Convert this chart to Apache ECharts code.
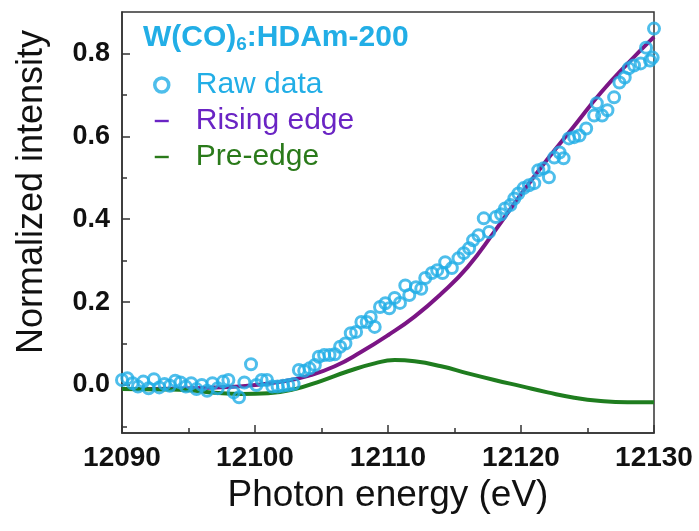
<!DOCTYPE html>
<html>
<head>
<meta charset="utf-8">
<script src="https://cdn.jsdelivr.net/npm/echarts@6/dist/echarts.min.js"></script>
<style>
  html, body { margin: 0; padding: 0; background: #fff; }
  #chart { width: 699px; height: 531px; }
</style>
</head>
<body>
<div id="chart"></div>
<script>
// raw data (photon energy / normalized intensity)
var rawX = [12090.0, 12090.4, 12090.8, 12091.2, 12091.6, 12092.0, 12092.4, 12092.8, 12093.2, 12093.6,
    12094.0, 12094.4, 12094.8, 12095.2, 12095.6, 12096.0, 12096.4, 12096.8, 12097.2, 12097.6,
    12098.0, 12098.4, 12098.8, 12099.2, 12099.7, 12100.1, 12100.5, 12100.9, 12101.3, 12101.7,
    12102.1, 12102.5, 12102.9, 12103.3, 12103.7, 12104.1, 12104.5, 12104.8, 12105.2, 12105.6,
    12106.0, 12106.4, 12106.8, 12107.2, 12107.6, 12108.0, 12108.4, 12108.7, 12109.0, 12109.4,
    12109.8, 12110.1, 12110.5, 12110.9, 12111.3, 12111.6, 12112.1, 12112.5, 12112.8, 12113.3,
    12113.7, 12114.1, 12114.3, 12114.8, 12115.3, 12115.7, 12116.1, 12116.4, 12116.8, 12117.2,
    12117.6, 12118.1, 12118.5, 12118.8, 12119.2, 12119.5, 12119.8, 12120.2, 12120.6, 12121.0,
    12121.3, 12121.7, 12122.1, 12122.5, 12122.9, 12123.2, 12123.6, 12124.0, 12124.4, 12124.9,
    12125.5, 12125.7, 12126.1, 12126.5, 12127.0, 12127.4, 12127.8, 12128.1, 12128.5, 12129.0,
    12129.4, 12129.7, 12129.9, 12130.0];
var rawY = [0.012, 0.016, 0.004, -0.004, 0.008, -0.008, 0.014, -0.006, 0.002, -0.002,
    0.010, 0.006, -0.004, 0.004, -0.010, 0.000, -0.014, 0.004, -0.008, 0.008,
    0.012, -0.018, -0.030, 0.006, 0.050, 0.000, 0.012, 0.012, -0.004, -0.004,
    -0.002, 0.000, 0.002, 0.036, 0.034, 0.040, 0.048, 0.068, 0.072, 0.072,
    0.074, 0.092, 0.100, 0.125, 0.128, 0.152, 0.152, 0.164, 0.140, 0.188,
    0.197, 0.185, 0.210, 0.198, 0.240, 0.217, 0.236, 0.232, 0.258, 0.270,
    0.277, 0.270, 0.296, 0.282, 0.306, 0.318, 0.330, 0.349, 0.361, 0.402,
    0.369, 0.405, 0.412, 0.426, 0.434, 0.450, 0.462, 0.475, 0.482, 0.487,
    0.518, 0.523, 0.501, 0.549, 0.561, 0.547, 0.595, 0.598, 0.602, 0.619,
    0.650, 0.680, 0.650, 0.663, 0.694, 0.730, 0.742, 0.764, 0.771, 0.776,
    0.814, 0.783, 0.790, 0.860];

// rising edge fit
var riseX = [12090, 12094, 12098, 12100, 12102, 12104, 12106, 12108, 12110, 12112,
    12114, 12116, 12118, 12120, 12122, 12124, 12126, 12128, 12130];
var riseY = [-0.010, -0.009, -0.005, 0.000, 0.008, 0.022, 0.045, 0.080, 0.120, 0.165,
    0.220, 0.285, 0.370, 0.460, 0.545, 0.625, 0.705, 0.775, 0.840];

// pre-edge fit
var preX = [12090, 12093, 12095, 12097, 12099, 12101, 12103, 12105, 12107, 12109,
    12110.5, 12112, 12114, 12116, 12118, 12120, 12122, 12124, 12126, 12128, 12130];
var preY = [-0.010, -0.011, -0.013, -0.019, -0.022, -0.020, -0.010, 0.010, 0.033, 0.052,
    0.060, 0.057, 0.045, 0.028, 0.012, -0.003, -0.018, -0.031, -0.039, -0.042, -0.042];

var yMajor = [0, 0.2, 0.4, 0.6, 0.8];
var yMinor = [-0.1, 0.1, 0.3, 0.5, 0.7];
var xMinor = [12095, 12105, 12115, 12125];

function pairs(xs, ys) {
    var out = [];
    for (var i = 0; i < xs.length; i++) out.push([xs[i], ys[i]]);
    return out;
}

var cyan = '#22aee6';
var purple = '#7b1585';
var green = '#1f7d1f';
var font = 'Liberation Sans, Arial, sans-serif';
var dash = 'path://M0,0 M0,14 M0,5.8 L14,5.8 L14,8.2 L0,8.2 Z';

var chart = echarts.init(document.getElementById('chart'));
var option = {
    animation: false,
    backgroundColor: '#fff',
    textStyle: {fontFamily: font},
    title: {
        left: 143,
        top: 22,
        padding: 0,
        text: '{a|W(CO)}{s|6}{a|:HDAm-200}',
        textStyle: {
            rich: {
                a: {fontSize: 30, fontWeight: 'bold', color: cyan, fontFamily: font, lineHeight: 32},
                s: {fontSize: 19, fontWeight: 'bold', color: cyan, fontFamily: font, verticalAlign: 'bottom', lineHeight: 19}
            }
        }
    },
    legend: {
        orient: 'vertical',
        left: 153,
        top: 70,
        padding: 0,
        itemGap: 6,
        itemWidth: 14,
        itemHeight: 14,
        textStyle: {fontSize: 30, fontFamily: font, lineHeight: 30, padding: [0, 0, 0, 22]},
        data: [
            {name: 'Raw data', textStyle: {color: cyan}, itemStyle: {borderWidth: 3.5}},
            {name: 'Rising edge', icon: dash, textStyle: {color: '#6a24c4'}, itemStyle: {color: '#6a24c4'}},
            {name: 'Pre-edge', icon: dash, textStyle: {color: '#2a7a1a'}, itemStyle: {color: '#2a7a1a'}}
        ]
    },
    grid: {
        left: 122, right: 45, top: 12, bottom: 98,
        show: true, borderColor: '#333', borderWidth: 1.5
    },
    graphic: [{
        type: 'text',
        x: 32, y: 192,
        rotation: Math.PI / 2,
        style: {
            text: 'Normalized intensity',
            font: '36px ' + font,
            fill: '#111',
            textAlign: 'center',
            textVerticalAlign: 'middle'
        }
    }],
    xAxis: [{
        type: 'value',
        min: 12090, max: 12130, interval: 10,
        name: 'Photon energy (eV)',
        nameLocation: 'middle',
        nameGap: 42,
        nameTextStyle: {fontSize: 37, color: '#111', fontFamily: font},
        axisLine: {onZero: false, lineStyle: {color: '#333', width: 1.5}},
        axisTick: {inside: true, length: 8, lineStyle: {color: '#333', width: 1.5}},
        axisLabel: {
            fontSize: 28, fontWeight: 'bold', color: '#111', margin: 11, fontFamily: font,
            formatter: function (v) { return String(v); }
        },
        splitLine: {show: false}
    }, {
        type: 'value',
        min: 12090, max: 12130,
        position: 'bottom',
        axisLine: {show: false, onZero: false},
        axisTick: {show: true, inside: true, length: 5, customValues: xMinor, lineStyle: {color: '#333', width: 1.5}},
        axisLabel: {show: false},
        splitLine: {show: false}
    }],
    yAxis: [{
        type: 'value',
        min: -0.116, max: 0.9,
        axisLine: {show: true, onZero: false, lineStyle: {color: '#333', width: 1.5}},
        axisTick: {inside: true, length: 8, customValues: yMajor, lineStyle: {color: '#333', width: 1.5}},
        axisLabel: {
            fontSize: 27, fontWeight: 'bold', color: '#111', margin: 12, fontFamily: font,
            customValues: yMajor,
            formatter: function (v) { return v.toFixed(1); }
        },
        splitLine: {show: false}
    }, {
        type: 'value',
        min: -0.116, max: 0.9,
        position: 'left',
        axisLine: {show: false, onZero: false},
        axisTick: {show: true, inside: true, length: 5, customValues: yMinor, lineStyle: {color: '#333', width: 1.5}},
        axisLabel: {show: false},
        splitLine: {show: false}
    }],
    series: [{
        name: 'Rising edge',
        type: 'line',
        data: pairs(riseX, riseY),
        smooth: 0.5,
        showSymbol: false,
        symbol: 'none',
        lineStyle: {color: purple, width: 4},
        itemStyle: {color: purple},
        z: 2
    }, {
        name: 'Pre-edge',
        type: 'line',
        data: pairs(preX, preY),
        smooth: 0.5,
        showSymbol: false,
        symbol: 'none',
        lineStyle: {color: green, width: 4},
        itemStyle: {color: green},
        z: 2
    }, {
        name: 'Raw data',
        type: 'scatter',
        data: pairs(rawX, rawY),
        symbol: 'circle',
        symbolSize: 11,
        itemStyle: {color: 'rgba(0,0,0,0)', borderColor: cyan, borderWidth: 3},
        z: 3
    }]
};
chart.setOption(option);
</script>
</body>
</html>
